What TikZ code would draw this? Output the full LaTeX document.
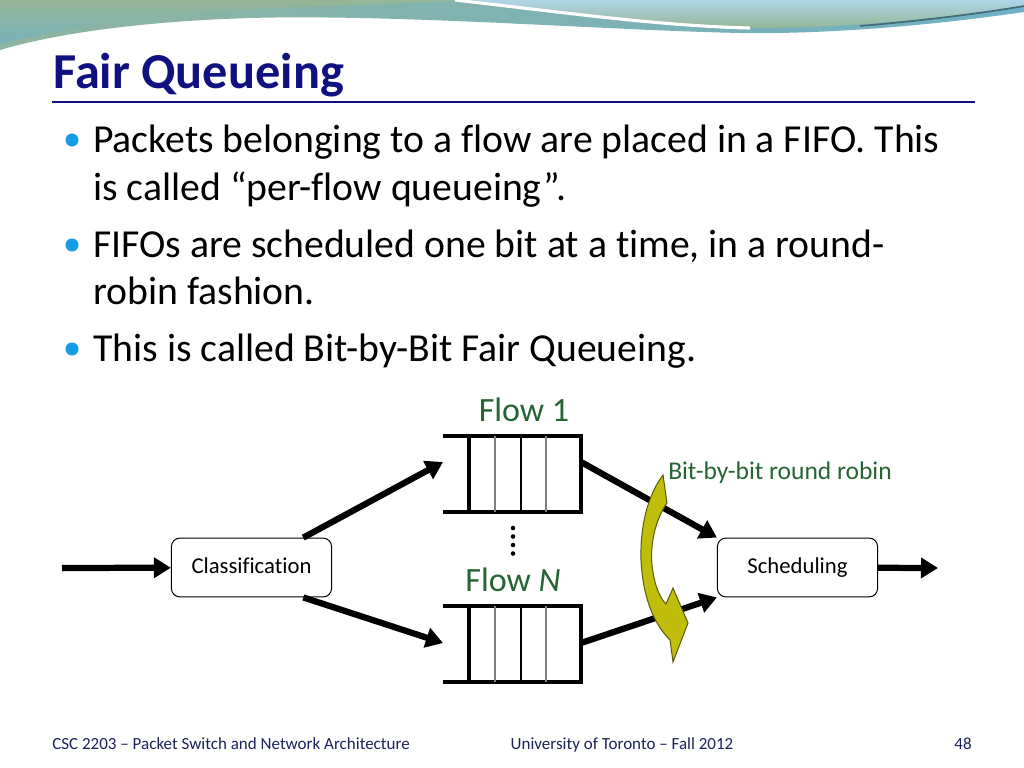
\documentclass[tikz,border=0pt]{standalone}
\usepackage{fontspec}
\setmainfont{Carlito}[Ligatures=NoCommon]
\usepackage{tikz}
\usetikzlibrary{arrows.meta}

\definecolor{titleblue}{RGB}{16,16,128}
\definecolor{bulletblue}{RGB}{22,158,228}
\definecolor{flowgreen}{RGB}{38,100,52}
\definecolor{footblue}{RGB}{28,34,92}
\definecolor{rryellow}{RGB}{192,190,10}
\definecolor{rrolive}{RGB}{90,90,10}
\definecolor{wavesage}{RGB}{150,182,150}
\definecolor{waveteal}{RGB}{112,176,198}
\definecolor{waveblue}{RGB}{176,212,232}

\tikzset{
  box/.style={draw,rounded corners=6pt,line width=0.7pt,minimum width=113pt,
    minimum height=41.5pt,inner sep=0pt,text height=11pt,text depth=3pt,
    font=\fontsize{16}{19}\selectfont},
  pipe/.style={line width=4.4pt,-{Triangle[length=12pt,width=14pt]}},
  queue/.style={line width=3pt},
  flowtext/.style={text=flowgreen,font=\fontsize{24}{28}\selectfont},
  bullettext/.style={anchor=base west,inner sep=0pt,font=\fontsize{28}{33}\selectfont},
  foot/.style={anchor=base,inner sep=0pt,text=footblue,font=\fontsize{12}{14}\selectfont}
}

\begin{document}
\begin{tikzpicture}[x=0.0248cm,y=-0.0248cm]
  \useasboundingbox[fill=white] (0,0) rectangle (1024,768);

  \shade[left color=wavesage!80!waveteal,right color=waveteal] (0,0) -- (1024,0) -- (1024,12)
    .. controls (900,30) and (800,34) .. (740,33) .. controls (600,30) and (400,14) .. (250,18)
    .. controls (120,22) and (40,38) .. (0,50) -- cycle;
  \shade[top color=wavesage,bottom color=waveteal!80!wavesage] (0,0) -- (470,0)
    .. controls (350,6) and (250,8) .. (180,14) .. controls (100,22) and (40,34) .. (0,44) -- cycle;
  \shade[top color=waveblue,bottom color=wavesage] (470,0) .. controls (560,12) and (660,26) .. (750,28)
    .. controls (850,28) and (950,18) .. (1024,6) -- (1024,0) -- cycle;
  \draw[white,line width=2.2pt] (455,0) .. controls (560,12) and (660,26) .. (750,28);
  \draw[waveteal!60!black,line width=1.2pt] (860,26) .. controls (930,20) and (990,12) .. (1024,6);

  \node[anchor=base west,inner sep=0pt,text=titleblue,font=\fontsize{35.5}{42}\bfseries] (title) at (53,89) {Fair Queueing};
  \draw[titleblue,line width=2pt] (52,102) -- (975,102);

  \foreach \y in {140,245,349}
    \fill[bulletblue] (72,\y) circle (4.6pt);
  \node[bullettext] (line1) at (93,153) {Packets belonging to a flow are placed in a FIFO. This};
  \node[bullettext] (line2) at (93,200) {is called “per-flow queueing”.};
  \node[bullettext] (line3) at (93,257) {FIFOs are scheduled one bit at a time, in a round-};
  \node[bullettext] (line4) at (93,304) {robin fashion.};
  \node[bullettext] (line5) at (93,361) {This is called Bit-by-Bit Fair Queueing.};

  \node[box] (cls) at (251.5,567.5) {Classification};
  \node[box] (sched) at (797.5,567.5) {Scheduling};
  \coordinate (src) at (62,568);
  \coordinate (dst) at (938,568);

  \foreach \q/\t in {1/436,N/606} {
    \draw[queue] (443,\t) -- (581,\t) -- (581,\t+76) -- (443,\t+76);
    \draw[queue] (469,\t) -- (469,\t+76);
    \draw[gray,line width=0.8pt] (495,\t) -- (495,\t+76) (546,\t) -- (546,\t+76);
    \draw[line width=0.8pt] (521,\t) -- (521,\t+76);
  }
  \coordinate (q1in) at (443,462);
  \coordinate (q1out) at (581,462);
  \coordinate (qNin) at (443,643);
  \coordinate (qNout) at (581,643);

  \node[flowtext] (flow1) at (524,410) {Flow 1};
  \node[flowtext] (flowN) at (513,580) {Flow \textit{N}};
  \foreach \y in {528,536.5,545,553.5}
    \fill (513,\y) circle (1.6pt);

  \draw[pipe] (src) -- (cls);
  \draw[pipe] (cls.30) -- (q1in);
  \draw[pipe] (cls.-30) -- (qNin);
  \draw[pipe] (q1out) -- (sched.north west);
  \draw[pipe] (qNout) -- (sched.south west);
  \draw[pipe] (sched) -- (dst);

  \draw[rrolive,fill=rryellow,line width=0.7pt] (663,475) -- (667,503)
    .. controls (655,520) and (650,545) .. (652,565) .. controls (654,585) and (660,598) .. (666,604)
    -- (673,588) -- (688,623) -- (673,662) -- (670,640)
    .. controls (655,625) and (643,600) .. (641,560) .. controls (640,525) and (648,495) .. (663,475) -- cycle;
  \node[text=flowgreen,font=\fontsize{18}{21}\selectfont] (rrlabel) at (780,473) {Bit-by-bit round robin};

  \node[foot,anchor=base west] (course) at (52,749) {CSC 2203 – Packet Switch and Network Architecture};
  \node[foot] (school) at (622,749) {University of Toronto – Fall 2012};
  \node[foot,anchor=base east] (page) at (972,749) {48};
\end{tikzpicture}
\end{document}
